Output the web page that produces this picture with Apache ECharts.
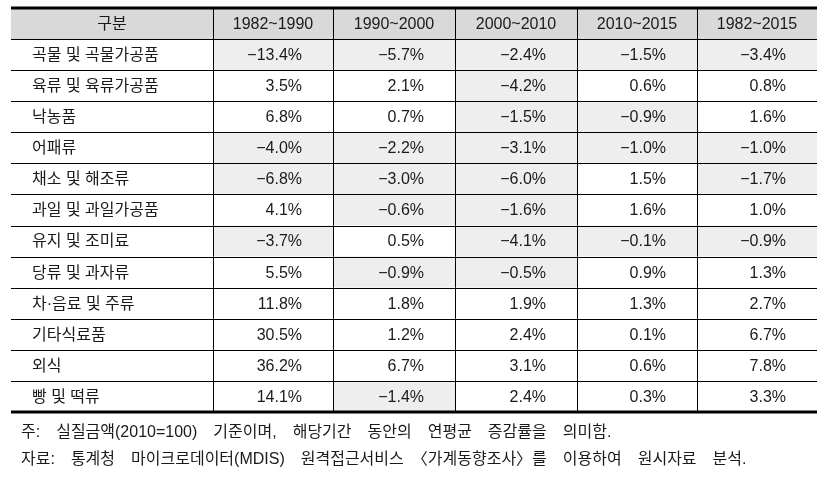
<!DOCTYPE html>
<html><head><meta charset="utf-8">
<script src="https://cdn.jsdelivr.net/npm/echarts@6/dist/echarts.min.js"></script>
<style>html,body{margin:0;padding:0;background:#fff}#c{width:823px;height:495px}</style>
</head><body><div id="c"></div>
<script>
const headerLabel = '구분';
const categories = ['곡물 및 곡물가공품','육류 및 육류가공품','낙농품','어패류','채소 및 해조류','과일 및 과일가공품','유지 및 조미료','당류 및 과자류','차·음료 및 주류','기타식료품','외식','빵 및 떡류'];
const periods = ['1982~1990','1990~2000','2000~2010','2010~2015','1982~2015'];
const v1982_1990 = [-13.4,3.5,6.8,-4.0,-6.8,4.1,-3.7,5.5,11.8,30.5,36.2,14.1];
const v1990_2000 = [-5.7,2.1,0.7,-2.2,-3.0,-0.6,0.5,-0.9,1.8,1.2,6.7,-1.4];
const v2000_2010 = [-2.4,-4.2,-1.5,-3.1,-6.0,-1.6,-4.1,-0.5,1.9,2.4,3.1,2.4];
const v2010_2015 = [-1.5,0.6,-0.9,-1.0,1.5,1.6,-0.1,0.9,1.3,0.1,0.6,0.3];
const v1982_2015 = [-3.4,0.8,1.6,-1.0,-1.7,1.0,-0.9,1.3,2.7,6.7,7.8,3.3];
const note1 = '주: 실질금액(2010=100) 기준이며, 해당기간 동안의 연평균 증감률을 의미함.';
const note2 = '자료: 통계청 마이크로데이터(MDIS) 원격접근서비스 〈가계동향조사〉를 이용하여 원시자료 분석.';

const seriesValues = [v1982_1990, v1990_2000, v2000_2010, v2010_2015, v1982_2015];
const colEdges = [0, 202, 322, 444, 566, 686, 806];
const FONT = "'Liberation Sans', 'Noto Sans CJK KR', sans-serif";
const rows = ['header'].concat(categories);

function fmt(v){ return (v < 0 ? '\u2212' + Math.abs(v).toFixed(1) : v.toFixed(1)) + '%'; }
function wide(s){ return s.replace(/ /g, '\u3000'); }

// data items: [col, row, text, kind, negative]
const data = [];
data.push([0, 0, headerLabel, 'head', 0]);
periods.forEach((p, j) => data.push([j + 1, 0, p, 'head', 0]));
categories.forEach((c, i) => {
  data.push([0, i + 1, c, 'cat', 0]);
  seriesValues.forEach((arr, j) => data.push([j + 1, i + 1, fmt(arr[i]), 'val', arr[i] < 0 ? 1 : 0]));
});

const nRows = rows.length;
function cellBox(params, api) {
  const col = api.value(0), row = api.value(1);
  const p0 = api.coord([colEdges[col], row]);
  const p1 = api.coord([colEdges[col + 1], row]);
  const h = api.size([0, 1])[1];
  return { col: col, row: row, x0: p0[0], x1: p1[0], yc: p0[1], y0: p0[1] - h / 2, y1: p0[1] + h / 2, h: h };
}
function renderCell(params, api) {
  const b = cellBox(params, api);
  const item = data[params.dataIndex];
  const kind = item[3], text = item[2], neg = item[4];
  const fill = kind === 'head' ? '#d9d9d9' : (neg ? '#eeeeee' : '#ffffff');
  let tx, align;
  if (kind === 'head') { tx = (b.x0 + b.x1) / 2; align = 'center'; }
  else if (kind === 'cat') { tx = b.x0 + 21; align = 'left'; }
  else { tx = b.x1 - 31; align = 'right'; }
  return { type: 'group', children: [
    { type: 'rect', shape: { x: b.x0, y: b.y0, width: b.x1 - b.x0, height: b.h }, style: { fill: fill } },
    { type: 'text', style: { x: tx, y: b.yc + 1, text: text, align: align, verticalAlign: 'middle', fill: '#1a1a1a', font: '16px ' + FONT } }
  ]};
}
function renderBorder(params, api) {
  const b = cellBox(params, api);
  const children = [];
  if (b.col < colEdges.length - 2) {
    const xv = Math.round(b.x1) + 0.5;
    children.push({ type: 'line', shape: { x1: xv, y1: b.y0, x2: xv, y2: b.y1 }, style: { stroke: '#000', lineWidth: 1 } });
  }
  const last = b.row === nRows - 1;
  const yb = last ? Math.round(b.y1) : Math.round(b.y1) + 0.5;
  children.push({ type: 'line', shape: { x1: b.x0, y1: yb, x2: b.x1, y2: yb }, style: { stroke: '#000', lineWidth: last ? 3 : 1 } });
  if (b.row === 0) {
    const yt = Math.round(b.y0);
    children.push({ type: 'line', shape: { x1: b.x0, y1: yt, x2: b.x1, y2: yt }, style: { stroke: '#000', lineWidth: 3 } });
  }
  return { type: 'group', children: children };
}

const chart = echarts.init(document.getElementById('c'), null, { renderer: 'canvas' });
const noteStyle = { fontSize: 16, fontWeight: 'normal', color: '#1a1a1a', fontFamily: FONT };
chart.setOption({
  animation: false,
  backgroundColor: '#fff',
  grid: { left: 11, right: 6, top: 8, bottom: 83 },
  xAxis: { type: 'value', min: colEdges[0], max: colEdges[colEdges.length - 1], show: false },
  yAxis: { type: 'category', data: rows, inverse: true, show: false },
  title: [
    { text: wide(note1), left: 21, top: 425, textStyle: noteStyle, padding: 0 },
    { text: wide(note2), left: 21, top: 452, textStyle: noteStyle, padding: 0 }
  ],
  series: [
    { type: 'custom', renderItem: renderCell, data: data, encode: { x: 0, y: 1 }, clip: false, z: 2 },
    { type: 'custom', renderItem: renderBorder, data: data, encode: { x: 0, y: 1 }, clip: false, z: 3, silent: true }
  ]
});
</script></body></html>
